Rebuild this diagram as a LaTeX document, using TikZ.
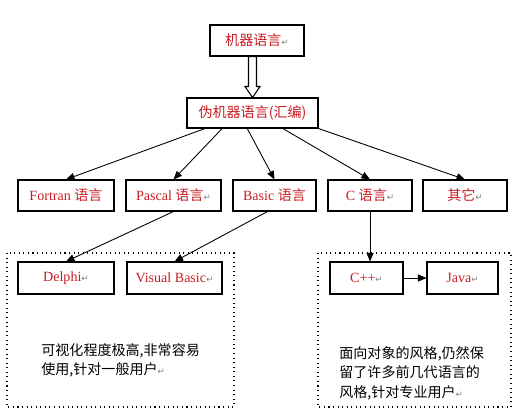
\documentclass[tikz,border=0pt]{standalone}
\usepackage{fontspec}
\setmainfont{Liberation Serif}
\newfontfamily\cjk{Noto Sans CJK SC}
\newfontfamily\dejavu{DejaVu Sans}
\usepackage{xcolor}
\usepackage{tikz}
\usetikzlibrary{positioning, arrows.meta, calc}

\definecolor{boxred}{RGB}{200,30,35}
\newcommand{\parmark}{{\dejavu\fontsize{5}{5}\selectfont\textcolor{gray}{↵}}}

\begin{document}
\begin{tikzpicture}[
    x=0.02cm, y=-0.02cm,
    lang/.style={draw=black, line width=0.6pt, fill=white, minimum height=0.62cm,
                 inner sep=1pt, text=boxred, font=\fontsize{8}{9}\selectfont},
    link/.style={-{Triangle[length=1.7mm, width=1.4mm]}, line width=0.5pt},
    blockarrow/.style={line width=0.6pt, fill=white},
    group/.style={dotted, line width=0.6pt},
    note/.style={anchor=north west, align=left, inner sep=0pt,
                 font=\cjk\fontsize{8}{11.2}\selectfont}
]
\useasboundingbox (0,0) rectangle (526,415);
% dotted groups
\draw[group] (7,253) rectangle (234,407);
\draw[group] (318,253) rectangle (511,407);

\node[lang, minimum width=1.88cm] (mach) at (257,40.5) {{\cjk 机器语言}\parmark};
\node[lang, minimum width=2.62cm, minimum height=0.6cm] (asm) at (252.5,113) {\cjk 伪机器语言(汇编)};

\node[lang, minimum width=1.92cm] (fortran) at (66,195.5)    {Fortran {\cjk 语言}};
\node[lang, minimum width=1.90cm] (pascal)  at (173.5,195.5) {Pascal {\cjk 语言}\parmark};
\node[lang, minimum width=1.66cm] (basic)   at (274.5,195.5) {Basic {\cjk 语言}};
\node[lang, minimum width=1.68cm] (clang)   at (370,195.5)   {C {\cjk 语言}\parmark};
\node[lang, minimum width=1.68cm] (other)   at (465,195.5)   {{\cjk 其它}\parmark};

\node[lang, minimum width=1.92cm, minimum height=0.64cm] (delphi) at (66,278)    {Delphi\parmark};
\node[lang, minimum width=1.90cm, minimum height=0.64cm] (vb)     at (174.5,278) {Visual Basic\parmark};
\node[lang, minimum width=1.46cm, minimum height=0.64cm] (cpp)    at (366.5,278) {C++\parmark};
\node[lang, minimum width=1.42cm, minimum height=0.64cm] (java)   at (462.5,278) {Java\parmark};

\node[note] (visual) at (41,343) {可视化程度极高,非常容易\\使用,针对一般用户\parmark};
\node[note] (oop) at (339,346) {面向对象的风格,仍然保\\留了许多前几代语言的\\风格,针对专业用户\parmark};

% hollow arrow
\coordinate (tip) at (asm.north);
\coordinate (top) at (tip |- mach.south);
\draw[blockarrow] (tip) -- ($(tip)+(-7.5,-11)$) -- ($(tip)+(-4,-11)$) -- ($(top)+(-4,0)$)
    -- ($(top)+(4,0)$) -- ($(tip)+(4,-11)$) -- ($(tip)+(7.5,-11)$) -- cycle;

\draw[link] ($(asm.south west)!0.14!(asm.south east)$) -- (fortran.north);
\draw[link] ($(asm.south west)!0.27!(asm.south east)$) -- (pascal.north);
\draw[link] ($(asm.south west)!0.46!(asm.south east)$) -- (basic.north);
\draw[link] ($(asm.south west)!0.73!(asm.south east)$) -- (clang.north);
\draw[link] (asm.south east) -- (other.north);

\draw[link] (pascal.south) -- (delphi.north);
\draw[link] ($(basic.south)+(-7,0)$) -- (vb.north);
\draw[link] (clang.south) -- (clang.south |- cpp.north);
\draw[link] (cpp.east) -- (java.west);
\end{tikzpicture}
\end{document}
